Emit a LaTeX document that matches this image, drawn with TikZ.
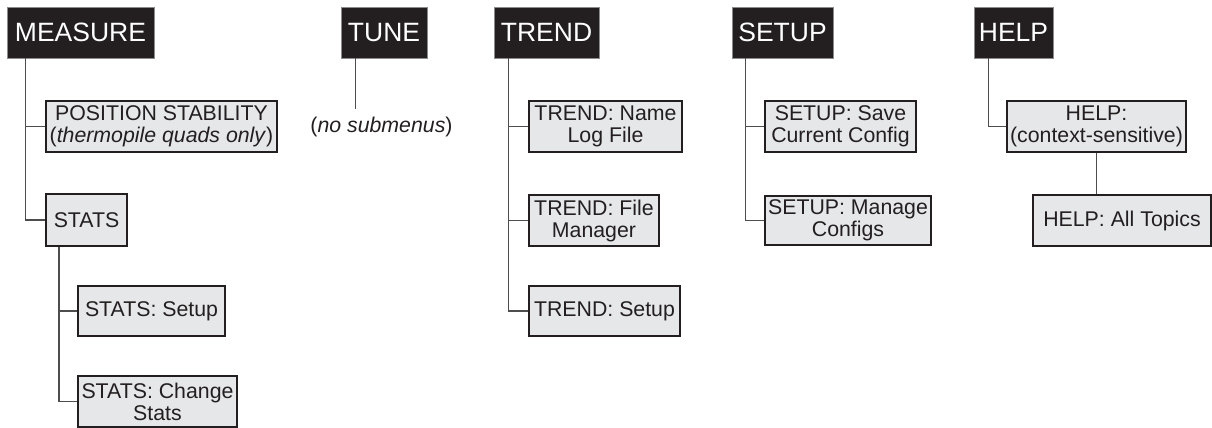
\documentclass[tikz,border=0pt]{standalone}
\usepackage{fontspec}
\setmainfont{Liberation Sans}
\definecolor{ink}{HTML}{231F20}
\definecolor{boxfill}{HTML}{E6E7E8}
\definecolor{wire}{HTML}{4D4D4D}
\begin{document}
\begin{tikzpicture}[x=1pt,y=-1pt,
  header/.style={fill=ink,draw=black!45,line width=0.6pt,text=white,inner sep=0pt,
     font=\fontsize{26.5}{28}\selectfont,minimum height=51pt},
  menubox/.style={fill=boxfill,draw=ink,line width=2.2pt,text=ink,inner sep=0pt,align=center,
     font=\fontsize{21.3}{22}\selectfont},
  link/.style={draw=wire,line width=1.3pt}]
\useasboundingbox (0,0) rectangle (1212,428);
% headers
\node[header,minimum width=147pt] (m) at (80.5,32.5) {MEASURE};
\node[header,minimum width=86pt] (tune) at (384,32.5) {TUNE};
\node[header,minimum width=105pt] (trend) at (546.5,32.5) {TREND};
\node[header,minimum width=101pt] (setup) at (782.5,32.5) {SETUP};
\node[header,minimum width=79pt] (help) at (1013.5,32.5) {HELP};
% measure
\node[menubox,minimum width=231pt,minimum height=51pt] (ps) at (161.5,126.5) {POSITION STABILITY\\(\textit{thermopile quads only})};
\node[menubox,minimum width=81pt,minimum height=52pt] (stats) at (86.5,220) {STATS};
\node[menubox,minimum width=147pt,minimum height=50pt] (ss) at (151.5,311) {STATS: Setup};
\node[menubox,minimum width=159pt,minimum height=51pt] (sc) at (157.5,401.5) {STATS: Change\\Stats};
% tune
\node[text=ink,font=\fontsize{21.3}{22}\selectfont,inner sep=0pt,minimum height=18pt] (nosub) at (381.5,127) {(\textit{no submenus})};
% trend
\node[menubox,minimum width=153pt,minimum height=51pt] (tn) at (605.5,126.5) {TREND: Name\\Log File};
\node[menubox,minimum width=130pt,minimum height=51pt] (tf) at (594,220.5) {TREND: File\\Manager};
\node[menubox,minimum width=151pt,minimum height=50pt] (ts) at (604.5,311) {TREND: Setup};
% setup
\node[menubox,minimum width=151pt,minimum height=51pt] (sv) at (840.5,126.5) {SETUP: Save\\Current Config};
\node[menubox,minimum width=166pt,minimum height=49pt] (sm) at (848,220.5) {SETUP: Manage\\Configs};
% help
\node[menubox,minimum width=179pt,minimum height=51pt] (hc) at (1096.5,126.5) {HELP:\\(context-sensitive)};
\node[menubox,minimum width=178pt,minimum height=51pt] (ha) at (1122,220.5) {HELP: All Topics};
% connectors
\draw[link] ([xshift=19pt]m.south west) |- (ps.west);
\draw[link] ([xshift=19pt]m.south west) |- (stats.west);
\draw[link] ([xshift=14pt]stats.south west) |- (ss.west);
\draw[link] ([xshift=14pt]stats.south west) |- (sc.west);
\draw[link] ([xshift=15pt]tune.south west) -- ([xshift=15pt,yshift=8pt]tune.south west |- nosub.north);
\draw[link] ([xshift=15pt]trend.south west) |- (tn.west);
\draw[link] ([xshift=15pt]trend.south west) |- (tf.west);
\draw[link] ([xshift=15pt]trend.south west) |- (ts.west);
\draw[link] ([xshift=14pt]setup.south west) |- (sv.west);
\draw[link] ([xshift=14pt]setup.south west) |- (sm.west);
\draw[link] ([xshift=15pt]help.south west) |- (hc.west);
\draw[link] (hc.south) -- (hc.south |- ha.north);
\end{tikzpicture}
\end{document}
